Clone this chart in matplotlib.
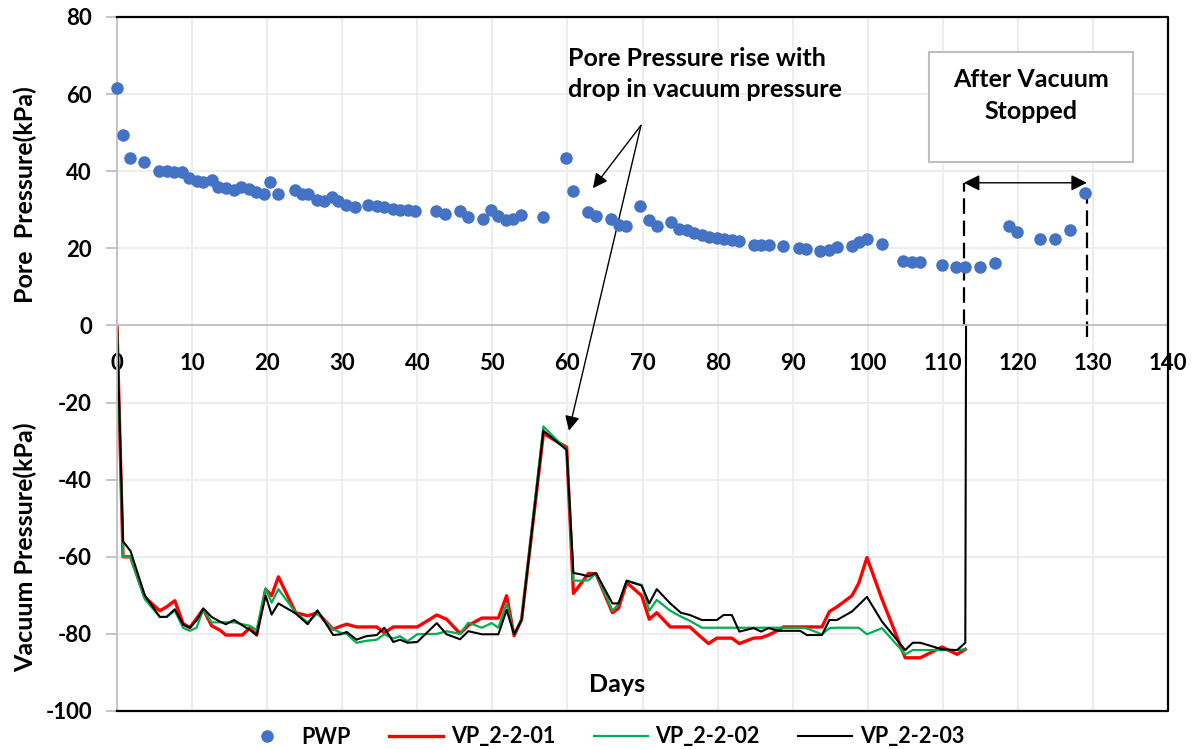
import matplotlib
matplotlib.use('Agg')
import matplotlib.pyplot as plt
from matplotlib.patches import Rectangle

plt.rcParams['font.family'] = ['Lato', 'DejaVu Sans']
plt.rcParams['font.weight'] = 'bold'
plt.rcParams['axes.unicode_minus'] = False

# pore water pressure readings (days, kPa)
pwp_days = [0, 0.8, 1.7, 3.6, 5.6, 6.6, 7.6, 8.7, 9.6, 10.7, 11.5, 12.7, 13.4, 14.5,
            15.6, 16.5, 17.6, 18.5, 19.6, 20.4, 21.5, 23.7, 24.7, 25.5, 26.6, 27.6,
            28.6, 29.5, 30.5, 31.7, 33.5, 34.6, 35.5, 36.7, 37.7, 38.7, 39.7, 42.5,
            43.7, 45.7, 46.8, 48.7, 49.8, 50.7, 51.8, 52.8, 53.8, 56.8, 59.8, 60.7,
            62.7, 63.8, 65.8, 66.9, 67.8, 69.7, 70.8, 71.9, 73.8, 74.8, 75.9, 76.9,
            77.9, 78.9, 79.9, 80.9, 81.9, 82.9, 84.8, 85.8, 86.8, 88.7, 90.9, 91.8,
            93.7, 94.8, 95.9, 97.9, 98.8, 99.9, 101.9, 104.7, 105.9, 106.9, 109.9,
            111.7, 113.0, 114.9, 117.0, 118.8, 119.9, 123.0, 124.9, 126.9, 128.9]
pwp = [61.5, 49.4, 43.5, 42.4, 40.1, 40.1, 39.7, 39.9, 38.3, 37.4, 37.1, 37.6, 35.9, 35.6,
       35.2, 35.8, 35.4, 34.7, 34.2, 37.2, 34.2, 35.1, 34.2, 34.2, 32.6, 32.3,
       33.2, 32.2, 31.2, 30.6, 31.2, 30.9, 30.6, 30.3, 30.0, 29.9, 29.6, 29.8,
       28.8, 29.6, 28.0, 27.6, 30.0, 28.3, 27.4, 27.7, 28.6, 28.2, 43.4, 34.8,
       29.5, 28.5, 27.6, 26.1, 25.8, 30.9, 27.4, 25.9, 26.9, 25.0, 24.8, 24.0,
       23.4, 22.9, 22.7, 22.5, 22.2, 21.9, 20.8, 20.8, 20.8, 20.5, 20.2, 19.8,
       19.3, 19.6, 20.3, 20.5, 21.6, 22.4, 21.2, 16.7, 16.5, 16.4, 15.8,
       15.1, 15.1, 15.1, 16.1, 25.7, 24.2, 22.3, 22.3, 24.7, 34.4]

# vacuum pressure readings (red and green stop at 113 d, black drops back to 0)
vp_days = [0, 0.8, 1.8, 3.7, 5.7, 6.6, 7.7, 8.8, 9.7, 10.6, 11.5, 12.6, 13.7, 14.5,
           15.6, 16.7, 17.7, 18.6, 19.8, 20.6, 21.5, 23.8, 25.4, 26.7, 28.8, 29.8,
           30.6, 31.9, 33.2, 34.6, 35.6, 36.8, 37.7, 38.7, 40.0, 42.6, 43.9, 45.7,
           46.8, 48.6, 49.9, 50.8, 51.9, 52.9, 53.9, 56.8, 59.9, 60.8, 61.9, 62.8,
           63.8, 66.0, 66.8, 67.9, 69.9, 70.9, 71.9, 73.7, 75.1, 76.3, 77.9, 78.8,
           79.9, 80.8, 81.9, 82.9, 84.8, 85.8, 86.8, 88.1, 88.8, 91.0, 91.9, 93.9,
           94.9, 95.9, 97.9, 98.8, 99.9, 101.9, 105.0, 106.0, 107.0, 109.9, 111.9,
           113.0, 113.1]
vp_01 = [0, -60, -60, -70.5, -74, -73, -71.4, -77.3, -78.4, -76, -73.6, -77.9, -79, -80.3,
         -80.3, -80.3, -78.4, -80.3, -68.4, -70.1, -65.2, -74.5, -75.3, -74.5, -78.8, -78,
         -77.5, -78.2, -78.2, -78.2, -79.7, -78.2, -78.2, -78.2, -78.2, -75.1, -76.2, -79.9,
         -77.8, -75.9, -75.9, -75.9, -70.1, -80.5, -76.2, -28.0, -31.6, -69.5, -66.7, -64.3,
         -64.4, -74.5, -73.4, -66.7, -70.1, -76.2, -74.5, -78.2, -78.2, -78.2, -81, -82.5,
         -81.1, -81.1, -81.1, -82.5, -81.1, -81, -80.3, -79, -78.2, -78.2, -78.2, -78.2,
         -74.2, -73.0, -70.1, -66.9, -60.2, -71, -86.2, -86.2, -86.2, -83.4, -85.3,
         -84]
vp_02 = [0, -60, -60, -71, -75.6, -75.6, -74, -78.4, -79.2, -78.4, -73.6, -77, -77, -77,
         -77, -77.5, -77.9, -79, -68.2, -71.9, -68.4, -74.5, -77, -74.7, -78.8, -79.7,
         -80, -82.3, -81.8, -81.5, -80.1, -81.2, -80.6, -81.9, -80.1, -80, -79.3, -80,
         -77.1, -78.4, -77.2, -78.4, -72.1, -80.2, -76.2, -26.2, -32.3, -66.2, -66.2, -66.1,
         -64.3, -74, -72.3, -66.2, -67.3, -74, -71.2, -74, -75.5, -76.6, -78.4, -78.4,
         -78.4, -78.4, -78.4, -78.4, -78.4, -78.4, -78.4, -78.4, -78.4, -78.4, -78.6, -80.1,
         -78.5, -78.4, -78.4, -78.4, -80.1, -78.5, -85.3, -84.2, -84.2, -84.2, -84.2,
         -84]
vp_03 = [0, -56, -58.5, -70, -75.6, -75.6, -73.6, -77.6, -78.4, -76.5, -73.4, -75.6, -76.8, -77.5,
         -76.4, -77.8, -79, -80.3, -70.1, -75, -72.1, -74.7, -77.5, -73.9, -80.3, -80.1,
         -79.5, -81.5, -80.6, -80.3, -78.4, -82.1, -81.5, -82.3, -82.1, -77.2, -80.1, -81.4,
         -79.3, -80.1, -80.1, -80.1, -73.8, -80.1, -76.4, -27.3, -32.3, -64.2, -64.6, -65.1,
         -64.2, -72.1, -72.1, -66.2, -67.5, -72.1, -68.4, -72.1, -74.5, -75.1, -76.4, -76.4,
         -76.4, -75.1, -75.1, -79.4, -78.5, -79.4, -78.5, -79.2, -79.2, -79.2, -80.3, -80.3,
         -76.4, -76.4, -74.2, -72.5, -70.4, -76.8, -84.2, -82.3, -82.3, -84, -84.2,
         -82.3, 0]

W, H = 1197, 749
fig = plt.figure(figsize=(W / 100, H / 100), dpi=100)
ax = fig.add_axes([117 / W, 1 - 711 / H, (1168 - 117) / W, (711 - 17) / H])

ax.set_xlim(0, 140)
ax.set_ylim(-100, 80)
ax.set_xticks(range(0, 141, 10))
ax.set_yticks(range(-100, 81, 20))
ax.grid(True, color='#ececec', lw=1.3)
ax.set_axisbelow(True)

ax.spines['bottom'].set_position(('data', 0))
ax.spines['bottom'].set_color('#bfbfbf')
ax.spines['bottom'].set_linewidth(1.3)
ax.spines['left'].set_color('#bfbfbf')
ax.spines['left'].set_linewidth(1.3)
ax.spines['top'].set_visible(False)
ax.spines['right'].set_visible(False)
# black frame on top, right and bottom
ax.plot([0, 1, 1, 0], [1, 1, 0, 0], transform=ax.transAxes, color='black',
        lw=1.6, clip_on=False, zorder=5)

ax.tick_params(axis='x', length=0, pad=20, labelsize=16)
ax.tick_params(axis='y', length=8, color='#bfbfbf', width=1.3, labelsize=16, pad=10)

l1, = ax.plot(vp_days[:len(vp_01)], vp_01, color='#ff0000', lw=2.4, label='VP_2-2-01')
l2, = ax.plot(vp_days[:len(vp_02)], vp_02, color='#00b050', lw=1.6, label='VP_2-2-02')
l3, = ax.plot(vp_days, vp_03, color='black', lw=1.5, label='VP_2-2-03')
p1, = ax.plot(pwp_days, pwp, 'o', color='#4472c4', ms=8, ls='none', label='PWP',
              clip_on=False, zorder=4)

# annotation: pore pressure rise
ax.text(60.1, 65.2, 'Pore Pressure rise with\ndrop in vacuum pressure', ha='left',
        va='center', fontsize=18, linespacing=1.45)
for tx, ty in [(63.4, 35.6), (60.2, -27.3)]:
    ax.annotate('', xy=(tx, ty), xytext=(69.8, 51.9),
                arrowprops=dict(arrowstyle='-|>', color='black', lw=1,
                                mutation_scale=22, shrinkA=0, shrinkB=0))

# annotation: after vacuum stopped
ax.add_patch(Rectangle((108.2, 42.3), 27.1, 28.6, fill=True, fc='white',
                       ec='#bfbfbf', lw=1.5, zorder=6))
ax.text(121.7, 59.6, 'After Vacuum\nStopped', ha='center', va='center', fontsize=18,
        linespacing=1.45, zorder=7)
ax.plot([112.8, 112.8], [0, 37], color='black', lw=1.6, ls=(0, (7, 3)))
ax.plot([129.2, 129.2], [-3, 37], color='black', lw=1.6, ls=(0, (7, 3)))
ax.annotate('', xy=(129.2, 37), xytext=(112.8, 37),
            arrowprops=dict(arrowstyle='<|-|>', color='black', lw=1,
                            mutation_scale=24, shrinkA=0, shrinkB=0))

fig.text(25 / W, 1 - 195 / H, 'Pore  Pressure(kPa)', rotation=90, ha='center',
         va='center', fontsize=18)
fig.text(25 / W, 1 - 547 / H, 'Vacuum Pressure(kPa)', rotation=90, ha='center',
         va='center', fontsize=18)
fig.text(617 / W, 1 - 685 / H, 'Days', ha='center', va='center', fontsize=18)

fig.legend(handles=[p1, l1, l2, l3], loc='center', bbox_to_anchor=(602 / W, 1 - 737 / H),
           ncol=4, frameon=False, fontsize=15.5, handlelength=2.5, columnspacing=1.8,
           handletextpad=0.35)

fig.savefig('out.png', dpi=100)
